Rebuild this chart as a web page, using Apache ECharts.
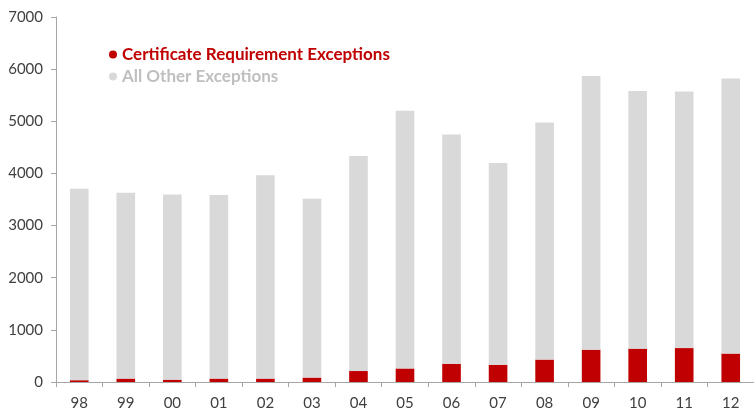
<!DOCTYPE html>
<html>
<head>
<meta charset="utf-8">
<script src="https://cdn.jsdelivr.net/npm/echarts@6/dist/echarts.min.js"></script>
<style>
  html, body { margin: 0; padding: 0; background: #ffffff; }
  #chart { width: 754px; height: 408px; }
</style>
</head>
<body>
<div id="chart"></div>
<script>
// Fiscal years (two-digit labels)
const years = ['98', '99', '00', '01', '02', '03', '04', '05', '06', '07', '08', '09', '10', '11', '12'];

// Certificate requirement exceptions per year
const certificateExceptions = [35, 65, 45, 65, 65, 85, 210, 260, 350, 330, 430, 620, 640, 650, 545];

// All other exceptions per year (stacked above the certificate exceptions)
const otherExceptions = [3670, 3565, 3550, 3520, 3900, 3430, 4125, 4940, 4395, 3870, 4545, 5250, 4940, 4920, 5275];

// Value axis ticks
const yTicks = [0, 1000, 2000, 3000, 4000, 5000, 6000, 7000];

const RED = '#c00000';
const GREY = '#d9d9d9';
const FONT = 'Lato, "Liberation Sans", sans-serif';

const chart = echarts.init(document.getElementById('chart'), null, { renderer: 'canvas' });

chart.setOption({
  animation: false,
  backgroundColor: '#ffffff',
  grid: { left: 56, right: 0, top: 17, bottom: 26, containLabel: false, outerBoundsMode: 'none' },
  legend: {
    orient: 'vertical',
    left: 104,
    top: 41,
    icon: 'circle',
    itemWidth: 8,
    itemHeight: 8,
    itemGap: 5,
    selectedMode: false,
    textStyle: { fontFamily: FONT, fontSize: 17, fontWeight: 'bold' },
    data: [
      { name: 'Certificate Requirement Exceptions', textStyle: { color: RED } },
      { name: 'All Other Exceptions', textStyle: { color: '#bfbfbf' } }
    ]
  },
  xAxis: {
    type: 'category',
    data: years,
    boundaryGap: true,
    axisLine: { lineStyle: { color: '#a6a6a6', width: 1 } },
    axisTick: { show: true, length: 5, lineStyle: { color: '#a6a6a6' } },
    axisLabel: { color: '#404040', fontFamily: FONT, fontSize: 15, margin: 14 }
  },
  yAxis: {
    type: 'value',
    min: yTicks[0],
    max: yTicks[yTicks.length - 1],
    interval: yTicks[1] - yTicks[0],
    axisLine: { show: true, lineStyle: { color: '#a6a6a6', width: 1 } },
    axisTick: { show: true, length: 5, lineStyle: { color: '#a6a6a6' } },
    splitLine: { show: false },
    axisLabel: {
      color: '#404040',
      fontFamily: FONT,
      fontSize: 15,
      margin: 13,
      formatter: (v) => String(v)
    }
  },
  series: [
    {
      name: 'Certificate Requirement Exceptions',
      type: 'bar',
      stack: 'total',
      data: certificateExceptions,
      barWidth: '40%',
      itemStyle: { color: RED }
    },
    {
      name: 'All Other Exceptions',
      type: 'bar',
      stack: 'total',
      data: otherExceptions,
      barWidth: '40%',
      itemStyle: { color: GREY }
    }
  ]
});
</script>
</body>
</html>
